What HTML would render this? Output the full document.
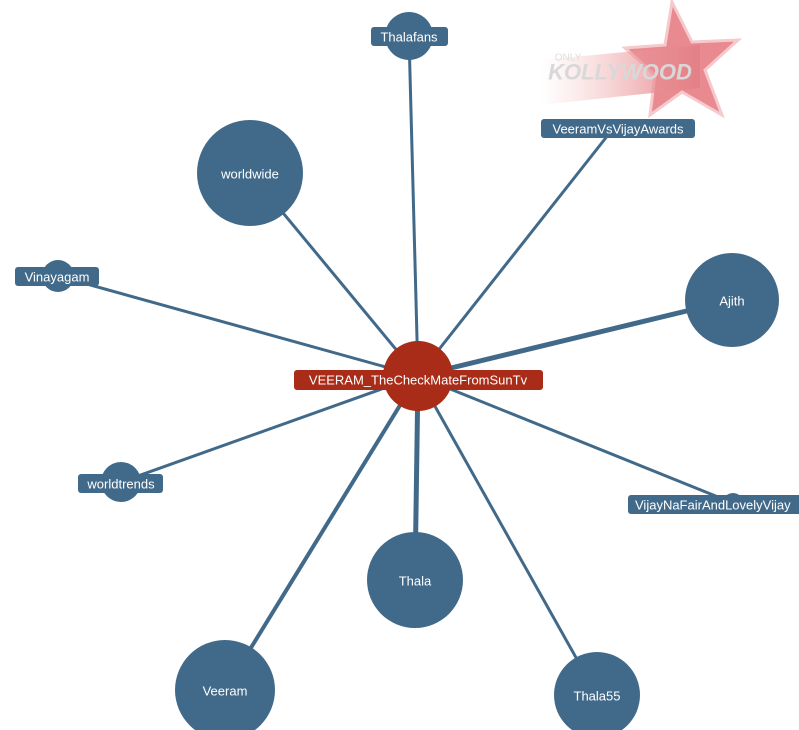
<!DOCTYPE html>
<html><head><meta charset="utf-8"><style>
html,body{margin:0;padding:0;background:#fff;width:799px;height:730px;overflow:hidden}
svg text{font-family:"Liberation Sans",Arial,sans-serif;font-size:13px;fill:#fff;text-anchor:middle;dominant-baseline:central}
</style></head><body>
<svg width="799" height="730" viewBox="0 0 799 730">
<defs><linearGradient id="g" x1="0" x2="1"><stop offset="0" stop-color="#f3b5b5" stop-opacity="0"/><stop offset="1" stop-color="#e47f86"/></linearGradient></defs>
<polygon points="672,2 692,42 738,40 705,70 722,115 682,92 650,115 655,75 625,48 665,45" fill="#e88a90" stroke="#f6c9cc" stroke-width="3"/>
<polygon points="540,60 700,45 700,88 540,105" fill="url(#g)"/>
<text x="620" y="72" style="font-size:22px;font-weight:bold;fill:#d8d8d8;font-style:italic">KOLLYWOOD</text>
<text x="568" y="58" style="font-size:10px;fill:#ddd">ONLY</text>
<g stroke="#416a8a" stroke-width="3" fill="none">
<line x1="418" y1="376" x2="409" y2="36"/>
<line x1="418" y1="376" x2="612" y2="130"/>
<line x1="418" y1="376" x2="250" y2="173"/>
<line x1="418" y1="376" x2="58" y2="276"/>
<line x1="418" y1="376" x2="732" y2="300" stroke-width="5"/>
<line x1="418" y1="376" x2="121" y2="482"/>
<line x1="418" y1="376" x2="733" y2="503"/>
<line x1="418" y1="376" x2="415" y2="580" stroke-width="5"/>
<line x1="418" y1="376" x2="225" y2="690" stroke-width="4"/>
<line x1="418" y1="376" x2="597" y2="695"/>
</g>
<g fill="#416a8a">
<circle cx="409" cy="36" r="24"/>
<circle cx="612" cy="128" r="8"/>
<circle cx="250" cy="173" r="53"/>
<circle cx="58" cy="276" r="16"/>
<circle cx="732" cy="300" r="47"/>
<circle cx="121" cy="482" r="20"/>
<circle cx="733" cy="503" r="10"/>
<circle cx="415" cy="580" r="48"/>
<circle cx="225" cy="690" r="50"/>
<circle cx="597" cy="695" r="43"/>
<rect x="371" y="27" width="77" height="19" rx="3"/>
<rect x="541" y="119" width="154" height="19" rx="3"/>
<rect x="15" y="267" width="84" height="19" rx="3"/>
<rect x="78" y="474" width="85" height="19" rx="3"/>
<rect x="628" y="495" width="175" height="19" rx="3"/>
</g>
<circle cx="418" cy="376" r="35" fill="#a82c18"/>
<rect x="294" y="370" width="249" height="20" rx="3" fill="#a82c18"/>
<text x="409" y="37">Thalafans</text>
<text x="618" y="129">VeeramVsVijayAwards</text>
<text x="250" y="174">worldwide</text>
<text x="57" y="277">Vinayagam</text>
<text x="732" y="301">Ajith</text>
<text x="121" y="484">worldtrends</text>
<text x="635" y="505" style="text-anchor:start">VijayNaFairAndLovelyVijay</text>
<text x="415" y="581">Thala</text>
<text x="225" y="691">Veeram</text>
<text x="597" y="696">Thala55</text>
<text x="418" y="380">VEERAM_TheCheckMateFromSunTv</text>
</svg>
</body></html>
